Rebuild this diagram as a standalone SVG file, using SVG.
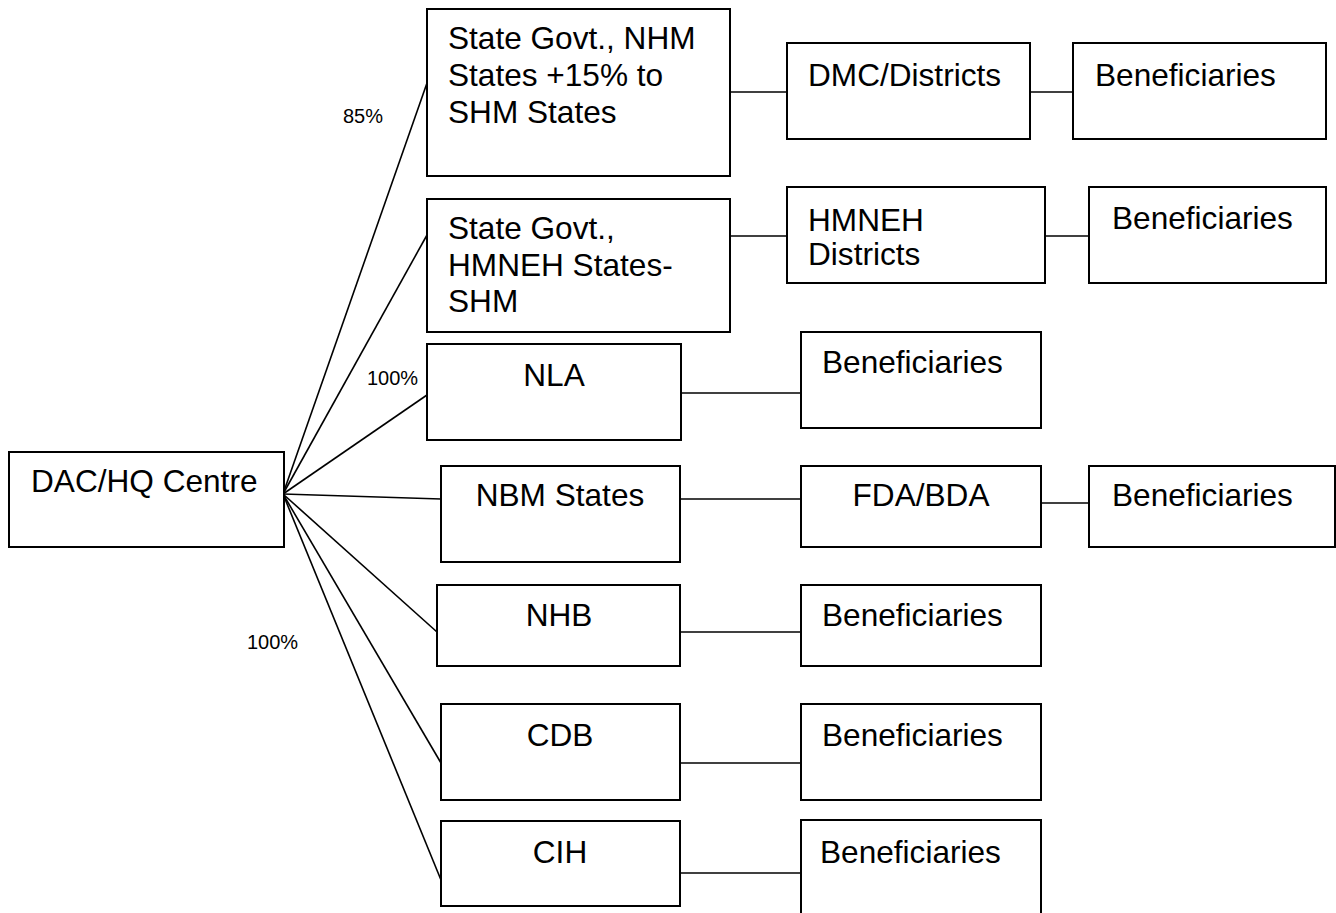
<svg xmlns="http://www.w3.org/2000/svg" width="1336" height="913" viewBox="0 0 1336 913">
<style>
.box{fill:#fff;stroke:#000;stroke-width:2}
.t{font-family:"Liberation Sans",Arial,sans-serif;font-size:31.6px;fill:#000}
.c{text-anchor:middle}
.p{font-family:"Liberation Sans",Arial,sans-serif;font-size:20px;fill:#000}
.ln{stroke:#000;stroke-width:1.6;fill:none}
</style>
<rect width="1336" height="913" fill="#fff"/>
<g id="connectors">
<line class="ln" x1="283" y1="494" x2="427" y2="83"/>
<line class="ln" x1="283" y1="494" x2="427" y2="235"/>
<line class="ln" x1="283" y1="494" x2="427" y2="395"/>
<line class="ln" x1="283" y1="494" x2="441" y2="499"/>
<line class="ln" x1="283" y1="494" x2="437" y2="632"/>
<line class="ln" x1="283" y1="494" x2="441" y2="763"/>
<line class="ln" x1="283" y1="494" x2="441" y2="880"/>
<line class="ln" x1="730" y1="92" x2="787" y2="92"/>
<line class="ln" x1="1030" y1="92" x2="1073" y2="92"/>
<line class="ln" x1="730" y1="236" x2="787" y2="236"/>
<line class="ln" x1="1045" y1="236" x2="1089" y2="236"/>
<line class="ln" x1="681" y1="393" x2="801" y2="393"/>
<line class="ln" x1="680" y1="499" x2="801" y2="499"/>
<line class="ln" x1="1041" y1="503" x2="1089" y2="503"/>
<line class="ln" x1="680" y1="632" x2="801" y2="632"/>
<line class="ln" x1="680" y1="763" x2="801" y2="763"/>
<line class="ln" x1="680" y1="873" x2="801" y2="873"/>
</g>
<g id="labels">
<text class="p" x="343" y="123">85%</text>
<text class="p" x="367" y="385">100%</text>
<text class="p" x="247" y="649">100%</text>
</g>
<g id="dac"><rect class="box" x="9" y="452" width="275" height="95"/><text class="t" x="31" y="492">DAC/HQ Centre</text></g>
<g id="nhm"><rect class="box" x="427" y="9" width="303" height="167"/><text class="t" x="448" y="49">State Govt., NHM</text><text class="t" x="448" y="86">States +15% to</text><text class="t" x="448" y="123">SHM States</text></g>
<g id="dmc"><rect class="box" x="787" y="43" width="243" height="96"/><text class="t" x="808" y="86">DMC/Districts</text></g>
<g id="ben1"><rect class="box" x="1073" y="43" width="253" height="96"/><text class="t" x="1095" y="86">Beneficiaries</text></g>
<g id="hmneh"><rect class="box" x="427" y="199" width="303" height="133"/><text class="t" x="448" y="239">State Govt.,</text><text class="t" x="448" y="276">HMNEH States-</text><text class="t" x="448" y="312">SHM</text></g>
<g id="hmnehd"><rect class="box" x="787" y="187" width="258" height="96"/><text class="t" x="808" y="231">HMNEH</text><text class="t" x="808" y="265">Districts</text></g>
<g id="ben2"><rect class="box" x="1089" y="187" width="237" height="96"/><text class="t" x="1112" y="229">Beneficiaries</text></g>
<g id="nla"><rect class="box" x="427" y="344" width="254" height="96"/><text class="t c" x="554" y="386">NLA</text></g>
<g id="ben3"><rect class="box" x="801" y="332" width="240" height="96"/><text class="t" x="822" y="373">Beneficiaries</text></g>
<g id="nbm"><rect class="box" x="441" y="466" width="239" height="96"/><text class="t c" x="560" y="506">NBM States</text></g>
<g id="fda"><rect class="box" x="801" y="466" width="240" height="81"/><text class="t c" x="921" y="506">FDA/BDA</text></g>
<g id="ben4"><rect class="box" x="1089" y="466" width="246" height="81"/><text class="t" x="1112" y="506">Beneficiaries</text></g>
<g id="nhb"><rect class="box" x="437" y="585" width="243" height="81"/><text class="t c" x="559" y="626">NHB</text></g>
<g id="ben5"><rect class="box" x="801" y="585" width="240" height="81"/><text class="t" x="822" y="626">Beneficiaries</text></g>
<g id="cdb"><rect class="box" x="441" y="704" width="239" height="96"/><text class="t c" x="560" y="746">CDB</text></g>
<g id="ben6"><rect class="box" x="801" y="704" width="240" height="96"/><text class="t" x="822" y="746">Beneficiaries</text></g>
<g id="cih"><rect class="box" x="441" y="821" width="239" height="85"/><text class="t c" x="560" y="863">CIH</text></g>
<g id="ben7"><path class="box" d="M801 914 V820 H1041 V914"/><text class="t" x="820" y="863">Beneficiaries</text></g>
</svg>
